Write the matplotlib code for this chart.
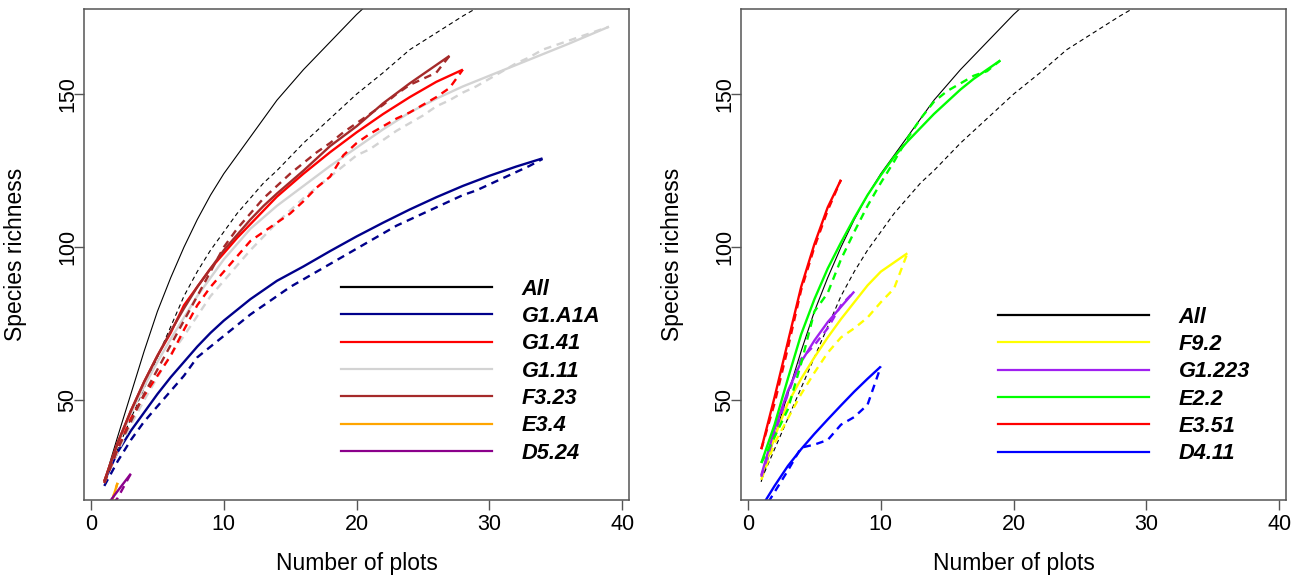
import matplotlib
matplotlib.use("Agg")
import matplotlib.pyplot as plt
from matplotlib.lines import Line2D

plt.rcParams["font.family"] = ["Liberation Sans", "DejaVu Sans"]

# ── Data ──────────────────────────────────────────────────────────────────────

# "All" curves, shared by both panels
all_x = [1, 2, 3, 4, 5, 6, 7, 8, 9, 10, 11, 12, 13, 14, 16, 18, 20, 22]
all_rare = [23.5, 38, 52, 66, 79, 90, 100, 109, 117, 124, 130, 136, 142, 148,
            158, 167, 176, 184]
all_dash_x = [1, 2, 3, 4, 5, 6, 7, 8, 9, 10, 11, 12, 13, 14, 16, 18, 20, 22,
              24, 26, 28, 30]
all_dash = [24, 34, 44, 54, 64, 74, 84, 92, 99, 105, 111, 116, 121, 125,
            134, 142, 150, 157, 164.5, 170, 175.5, 180.5]

# Left panel
left_names = ["G1.A1A", "G1.41", "G1.11", "F3.23", "E3.4", "D5.24"]
left_colors = ["#00008B", "#FF0000", "#D3D3D3", "#A52A2A", "#FFA500", "#8B008B"]

g1a1a_x = [1, 2, 3, 4, 5, 6, 7, 8, 9, 10, 11, 12, 13, 14, 16, 18, 20, 22, 24,
           26, 28, 30, 32, 34]
g1a1a_rare = [23.5, 33, 40, 46, 52, 57.5, 62.5, 67.5, 72, 76, 79.5, 83, 86, 89,
              93.7, 98.7, 103.5, 108, 112.3, 116.3, 120, 123.3, 126.3, 129]
g1a1a_obs = [22, 30, 37, 43, 48, 53, 58, 64, 67.5, 71, 74.5, 78, 81, 84, 87,
             89.5, 92, 94.5, 97, 99.5, 102, 104.5, 107, 109, 111, 113, 115,
             117, 118.5, 120.5, 122.5, 124.5, 126.5, 128.8]

g141_x = [1, 2, 3, 4, 5, 6, 7, 8, 9, 10, 11, 12, 13, 14, 16, 18, 20, 22, 24,
          26, 28]
g141_rare = [23.5, 36, 46.5, 56, 64.5, 72, 81, 87, 93, 98, 103, 107.5, 112,
             116.5, 124, 131, 137.5, 143.5, 149, 154, 158]
g141_obs = [23, 34, 44, 51.5, 58, 64.5, 73, 81, 87, 92, 97, 102, 105, 108, 111,
            115, 119.5, 123, 130, 134, 137, 139.5, 142, 144, 146.5, 149, 152,
            158]

g111_x = [1, 2, 3, 4, 5, 6, 7, 8, 9, 10, 12, 14, 16, 18, 20, 22, 24, 26, 28,
          30, 32, 34, 36, 39]
g111_rare = [23.5, 35.5, 45.5, 54.5, 62.5, 70, 77, 84, 90, 96, 106, 113.5,
             120, 126.5, 132.5, 138.5, 144, 148.5, 152.5, 156, 159.5, 163,
             166.5, 172]
g111_obs = [23, 33, 42, 50, 57.5, 65, 71, 77.5, 84, 89, 94, 99, 103.5, 108,
            112, 116, 119.5, 123, 126.5, 130, 132, 135, 138, 140.5, 143, 146,
            148, 150.5, 152.5, 155, 157.5, 160, 162, 164.5, 166, 167.5, 169,
            170.5, 172]

f323_x = [1, 2, 3, 4, 5, 6, 7, 8, 9, 10, 11, 12, 13, 14, 16, 18, 20, 22, 24,
          26, 27]
f323_rare = [23.5, 36, 46.5, 56, 64.5, 72.5, 80, 87, 93, 99, 104, 109, 113.5,
             117.5, 125, 133, 139.5, 147, 153.5, 159.5, 162.5]
f323_obs = [23, 34, 43, 52, 60, 68, 76, 84, 92, 100, 106, 111, 116, 120, 124,
            127.5, 131, 134, 137.5, 140.5, 143.5, 146.5, 150, 153, 155, 157,
            162.5]

e34_x = [1, 2]
e34_rare = [9, 23]
e34_obs = [9, 23]

d524_x = [1, 2, 3]
d524_rare = [14.5, 20.3, 26]
d524_obs = [13, 18, 26]

# Right panel
right_names = ["F9.2", "G1.223", "E2.2", "E3.51", "D4.11"]
right_colors = ["#FFFF00", "#A020F0", "#00FF00", "#FF0000", "#0000FF"]

f92_rare = [25, 38, 49, 57, 64, 70.5, 76.5, 82, 87.5, 92, 95, 98]
f92_obs = [24, 36, 44, 52, 59, 65.5, 70.5, 73.5, 77, 82, 86.5, 98]

g1223_rare = [25.5, 40.5, 53, 62.5, 69.5, 75.5, 80.5, 85.5]
g1223_obs = [25, 39, 52, 63.5, 68, 73.5, 81, 85.5]

e22_rare = [29.5, 42, 57, 71.5, 83, 93, 101.5, 109.5, 117, 123.5, 129.5, 134.5,
            139, 143.5, 147.5, 151.5, 155, 158, 161]
e22_obs = [29.5, 38, 47, 62, 79, 85, 96, 105, 113.5, 121, 128, 135.5, 142,
           147.5, 151, 153.5, 156, 157.5, 161]

e351_rare = [34, 51, 69, 87, 101, 113, 122]
e351_obs = [34, 49, 67, 86, 100, 112, 122]

d411_rare = [15, 22, 28.5, 34, 39, 43.7, 48.3, 52.8, 57, 61]
d411_obs = [13, 20, 27, 34.5, 35.5, 37, 42, 44.5, 48.5, 61]

# ── Plot ──────────────────────────────────────────────────────────────────────

W, H = 1304, 583
fig = plt.figure(figsize=(W / 100, H / 100), dpi=100)
ax_l = fig.add_axes([84.1 / W, 83 / H, 545 / W, 491 / H])
ax_r = fig.add_axes([741.1 / W, 83 / H, 545 / W, 491 / H])

LW = 1.7
DASH = (0, (3.2, 2.4))


def curve(ax, x_rare, y_rare, y_obs, color, x_obs=None):
    if x_obs is None:
        x_obs = list(range(1, len(y_obs) + 1))
    ax.plot(x_rare, y_rare, color=color, lw=LW, solid_capstyle="butt")
    ax.plot(x_obs, y_obs, color=color, lw=LW, linestyle=DASH)


def base_lines(ax):
    ax.plot(all_x, all_rare, color="black", lw=0.8)
    ax.plot(all_dash_x, all_dash, color="black", lw=0.8,
            linestyle=(0, (4, 3)))


def style(ax):
    ax.set_xlim(-0.52, 40.52)
    ax.set_ylim(17.4, 177.8)
    ax.set_xticks([0, 10, 20, 30, 40])
    ax.set_yticks([50, 100, 150])
    for s in ax.spines.values():
        s.set_color("#555555")
        s.set_linewidth(1.1)
    ax.tick_params(direction="out", length=7, width=1, color="#555555",
                   labelsize=15.5, pad=3)
    ax.tick_params(axis="y", pad=-3)
    for lab in ax.get_yticklabels():
        lab.set_rotation(90)
        lab.set_va("center")
    ax.set_xlabel("Number of plots", fontsize=16.5, labelpad=12)
    ax.set_ylabel("Species richness", fontsize=16.5, labelpad=22)


def legend(ax, names, colors, top):
    handles = [Line2D([], [], color="black", lw=1.6)]
    handles += [Line2D([], [], color=c, lw=1.6) for c in colors]
    ax.legend(handles, ["All"] + names, loc="upper left",
              bbox_to_anchor=(0.472, top), frameon=False,
              borderpad=0, borderaxespad=0,
              handlelength=6.9, handletextpad=1.38, labelspacing=0.29,
              prop={"weight": "bold", "style": "italic", "size": 15.7})


# Left panel
base_lines(ax_l)
curve(ax_l, g1a1a_x, g1a1a_rare, g1a1a_obs, left_colors[0])
curve(ax_l, g111_x, g111_rare, g111_obs, left_colors[2])
curve(ax_l, g141_x, g141_rare, g141_obs, left_colors[1])
curve(ax_l, f323_x, f323_rare, f323_obs, left_colors[3])
curve(ax_l, e34_x, e34_rare, e34_obs, left_colors[4], x_obs=e34_x)
curve(ax_l, d524_x, d524_rare, d524_obs, left_colors[5], x_obs=d524_x)
style(ax_l)
legend(ax_l, left_names, left_colors, 0.451)

# Right panel
base_lines(ax_r)
for ys, yo, c in zip([f92_rare, g1223_rare, e22_rare, e351_rare, d411_rare],
                     [f92_obs, g1223_obs, e22_obs, e351_obs, d411_obs],
                     right_colors):
    curve(ax_r, list(range(1, len(ys) + 1)), ys, yo, c)
style(ax_r)
legend(ax_r, right_names, right_colors, 0.394)

fig.savefig("out.png", dpi=100)
